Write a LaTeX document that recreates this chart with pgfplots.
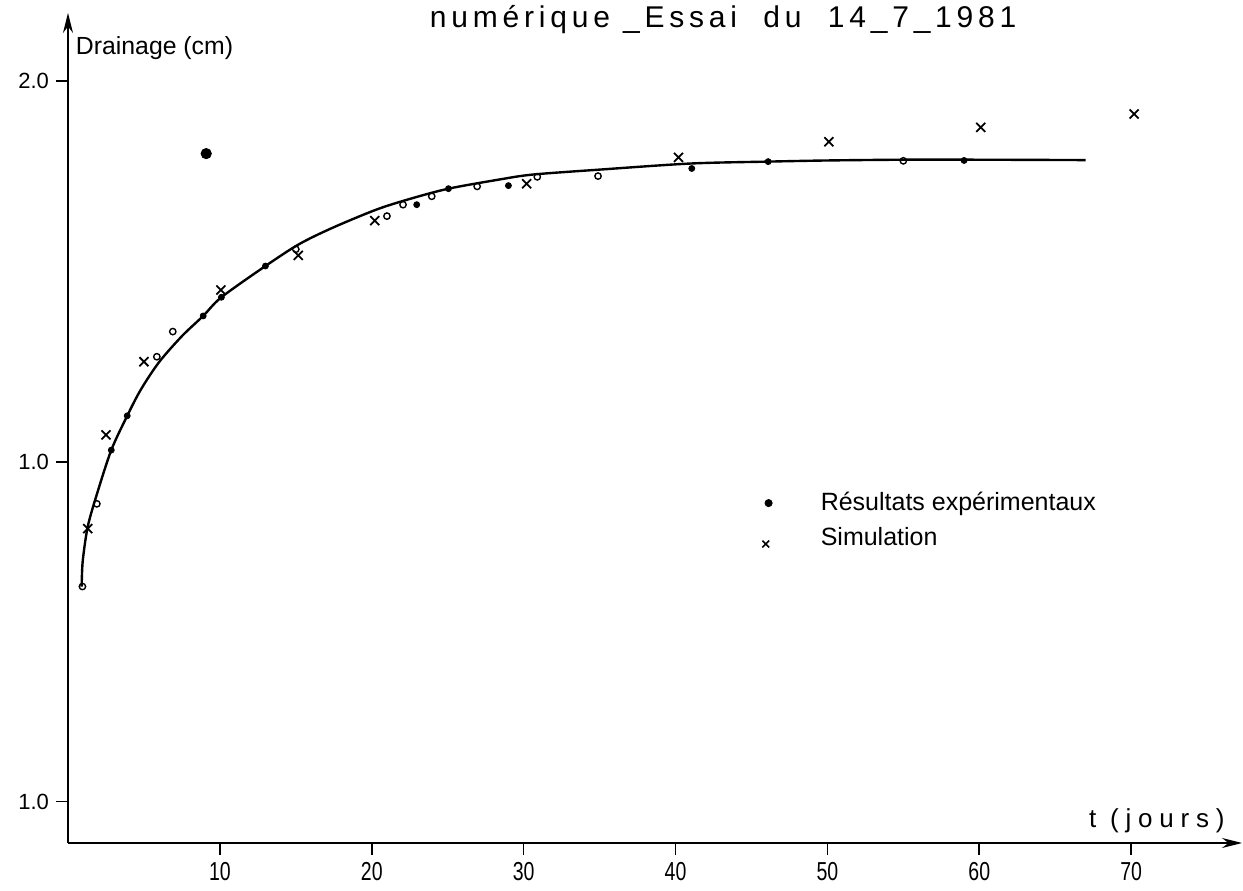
\documentclass[border=0pt]{standalone}
\usepackage{fontspec}
\setmainfont{Liberation Sans}
\newfontfamily\titlefont[LetterSpace=16]{Liberation Sans}
\newfontfamily\narrowfont[FakeStretch=0.75]{Liberation Sans}
\newfontfamily\widefont[LetterSpace=26]{Liberation Sans}
\usepackage{pgfplots}
\pgfplotsset{compat=1.18}
\usetikzlibrary{arrows.meta,calc}

\begin{document}
\begin{tikzpicture}
\begin{axis}[
  scale only axis, width=587bp, height=415bp,
  xmin=0, xmax=77.3, ymin=0, ymax=2.178,
  axis lines=left,
  axis line style={line width=0.8pt, -{Stealth[length=10bp,width=5bp]}},
  tick align=outside,
  major tick length=6bp,
  tick style={line width=0.8pt, black},
  xtick={10,20,30,40,50,60,70},
  ytick={0.109,1,2}, yticklabels={1.0,1.0,2.0},
  xticklabel style={font=\narrowfont\fontsize{13bp}{13bp}\selectfont},
  yticklabel style={font=\fontsize{11bp}{11bp}\selectfont},
  /pgf/number format/assume math mode=true,
  clip=false,
  legend style={at={(axis cs:45.3,0.942)}, anchor=north west, draw=none, fill=none,
    font=\fontsize{12.5bp}{12.5bp}\selectfont, row sep=3bp,
    nodes={inner sep=2bp}},
  legend cell align=left,
]
% fitted curve
\addplot[black, line width=1.2pt, smooth, forget plot] coordinates {
(0.9,0.673) (0.97,0.74) (1.3,0.83) (1.9,0.915) (2.85,1.031) (3.9,1.121)
(4.8,1.19) (6.0,1.262) (7.5,1.33) (8.9,1.383) (10.1,1.432) (13.0,1.514)
(15.2,1.571) (17.4,1.614) (20.3,1.662) (22.5,1.69) (25.05,1.717) (28.4,1.741)
(30.6,1.754) (35.0,1.767) (41.0,1.783) (46.1,1.788) (50,1.791) (55,1.793)
(60,1.793) (67,1.792)};
% experimental (filled dots)
\addplot[black, only marks, mark=*, mark size=1.5pt, forget plot] coordinates {
(2.85,1.031) (3.9,1.121) (8.9,1.383) (10.1,1.432) (13.0,1.514)
(22.96,1.675) (25.05,1.717) (29.0,1.725) (41.07,1.770) (46.1,1.788) (59.0,1.791)};
% experimental (open circles)
\addplot[black, only marks, mark=o, mark size=1.6pt, line width=0.7pt, forget plot] coordinates {
(0.95,0.673) (1.9,0.890) (5.85,1.276) (6.9,1.342) (15.0,1.558) (21.0,1.645)
(22.06,1.675) (23.95,1.697) (26.94,1.723) (30.9,1.748) (34.9,1.750) (55.0,1.790)};
% isolated large dot
\addplot[black, only marks, mark=*, mark size=2.6pt, forget plot] coordinates {(9.1,1.809)};
% simulation
\addplot[black, only marks, mark=x, mark size=3.2pt, line width=0.9pt, forget plot] coordinates {
(1.3,0.825) (2.5,1.071) (5.0,1.263) (10.07,1.451) (15.16,1.542) (20.2,1.633)
(30.2,1.730) (40.2,1.799) (50.1,1.840) (60.1,1.878) (70.2,1.913)};

\addlegendimage{legend image code/.code={\path[draw=none] (0,0) -- (0.95cm,0);
  \draw[black, only marks, mark=*, mark size=1.8pt] plot coordinates {(0.1cm,0cm)};}}
\addlegendentry{Résultats expérimentaux}
\addlegendimage{legend image code/.code={\path[draw=none] (0,0) -- (0.95cm,0);
  \draw[black, only marks, mark=x, mark size=2.4pt, line width=0.8pt] plot coordinates {(0.05cm,-0.1cm)};}}
\addlegendentry{Simulation}

\node[anchor=base west, font=\fontsize{12.4bp}{12.4bp}\selectfont, inner sep=0pt] at (axis cs:0.5,2.068) {Drainage (cm)};
\node[anchor=base west, font=\widefont\fontsize{13bp}{13bp}\selectfont, inner sep=0pt] at (axis cs:67.2,0.040) {t (jours)};
\node[anchor=base west, font=\titlefont\fontsize{15bp}{15bp}\selectfont, inner sep=0pt] at (axis cs:23.8,2.139) {numérique \_Essai\ \ du\ \ 14\_7\_1981};
\end{axis}
\pgfresetboundingbox
\path[use as bounding box] ($(current axis.south west)+(-34bp,-24bp)$) rectangle ($(current axis.north east)+(0.5bp,6.5bp)$);
\end{tikzpicture}
\end{document}
